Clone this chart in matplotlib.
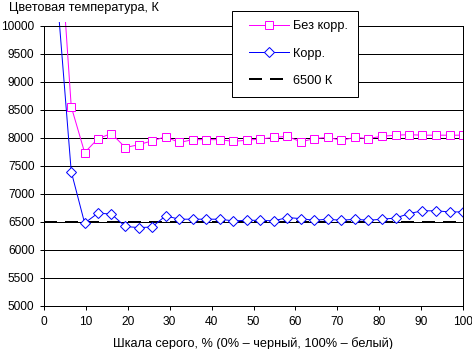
import numpy as np
import matplotlib
matplotlib.use("Agg")
import matplotlib.pyplot as plt
from matplotlib.patches import Rectangle
from matplotlib.legend_handler import HandlerLine2D

plt.rcParams["font.family"]=["Liberation Sans","DejaVu Sans"]
plt.rcParams["font.size"]=9.2

#======================
# Data
#======================

gray=[0,3.2,6.5,9.7,12.9,16.1,19.4,22.6,25.8,29.0,32.3,35.5,38.7,41.9,45.2,48.4,
      51.6,54.8,58.1,61.3,64.5,67.7,71.0,74.2,77.4,80.6,83.9,87.1,90.3,93.5,96.8,100]
no_corr=[16000,12200,8560,7740,7990,8080,7830,7880,7950,8020,7920,7970,7970,7970,7940,7960,
         7980,8010,8030,7930,7990,8010,7960,8010,7990,8030,8050,8060,8050,8050,8050,8050]
corr=[14000,10500,7400,6480,6660,6640,6420,6400,6410,6610,6550,6550,6550,6550,6520,6530,
      6530,6520,6580,6560,6530,6550,6530,6550,6530,6550,6570,6650,6700,6700,6680,6680]
target=[6500]*len(gray)

labels=["Без корр.","Корр.","6500 К"]

# legend handle with some extra room on its left side
class PadHandler(HandlerLine2D):
    def create_artists(self,legend,orig_handle,xdescent,ydescent,width,height,fontsize,trans):
        pad=5.3
        arts=super().create_artists(legend,orig_handle,xdescent-pad,ydescent,width-pad,height,fontsize,trans)
        for a in arts:
            a.set_clip_path(None)
        return arts

#======================
# Plot
#======================

fig=plt.figure(figsize=(4.72,3.49),dpi=100)
ax=fig.add_axes([44/472,1-306/349,419/472,280/349])

px=0.72
l1,=ax.plot(gray,no_corr,color="#FF00FF",lw=px,marker="s",ms=5.2,mfc="white",mec="#FF00FF",mew=px,label=labels[0])
l2,=ax.plot(gray,corr,color="#0000FF",lw=px,marker="D",ms=4.6,mfc="white",mec="#0000FF",mew=px,label=labels[1])
l3,=ax.plot(gray,target,color="black",lw=2*px,dashes=(6.5,4),label=labels[2],zorder=1.5)

# let the steep start poke a little above the frame
clip=Rectangle((0,0),1,1.016,transform=ax.transAxes)
for ln in (l1,l2):
    ln.set_clip_path(clip)

ax.set_xlim(0,100)
ax.set_ylim(5000,10000)
ax.set_xticks(range(0,101,10))
ax.set_yticks(range(5000,10001,500))
ax.yaxis.grid(True,color="black",lw=px)
ax.set_axisbelow(True)
for s in ax.spines.values():
    s.set_linewidth(px)
ax.tick_params(direction="out",length=4*px,width=px,pad=4,labelsize=8.6)
ax.set_xlabel("Шкала серого, % (0% – черный, 100% – белый)",fontsize=9.2,labelpad=6.5)

fig.text(9/472,1-8/349,"Цветовая температура, К",fontsize=9.2,va="center",ha="left")

leg=fig.legend(handles=[l1,l2,l3],loc="upper left",bbox_to_anchor=(232/472,1-10.7/349),
               numpoints=1,handlelength=3.71,handletextpad=0.31,labelspacing=1.2,
               borderpad=0.75,borderaxespad=0,fancybox=False,framealpha=1,fontsize=9.2,
               handler_map={l1:PadHandler(),l2:PadHandler(),l3:PadHandler()})
leg.get_frame().set_edgecolor("black")
leg.get_frame().set_linewidth(px)

plt.savefig("out.png",dpi=100)
